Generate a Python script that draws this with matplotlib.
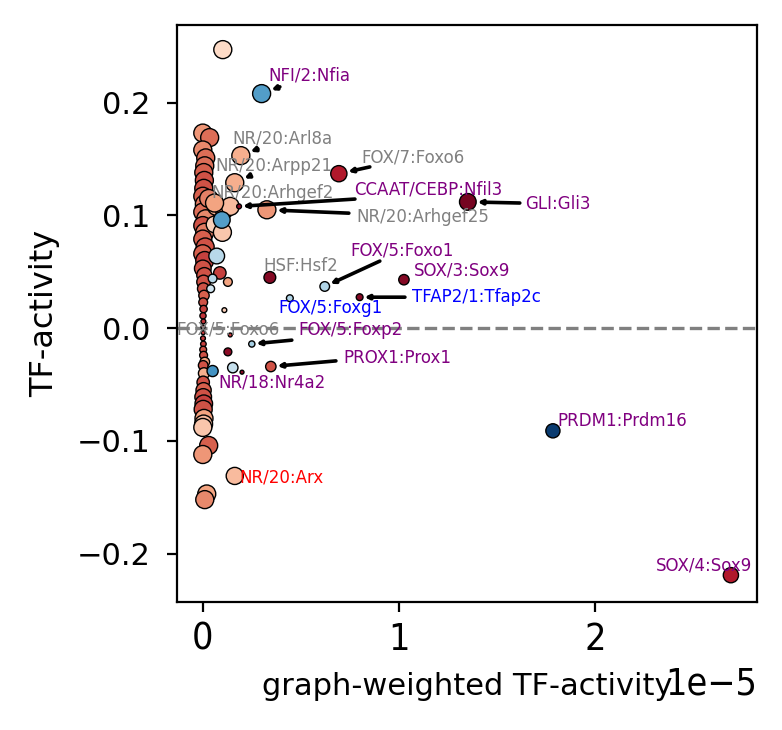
import numpy as np
import matplotlib
matplotlib.use("Agg")
import matplotlib.pyplot as plt

# unlabelled TFs: graph-weighted activity (x, units of 1e-5), TF-activity (y),
# marker size and colour value (RdBu_r)
col_x = [
    0.000, 0.035, 0.000, 0.015, 0.010, 0.005, 0.008, 0.005, 0.000, 0.008,
    0.000, 0.015, 0.000, 0.010, 0.000, 0.012, 0.000, 0.010, 0.000, 0.008,
    0.004, 0.003, 0.006, 0.002, 0.004, 0.001, 0.003, 0.001, 0.002, 0.001,
    0.003, 0.002, 0.004, 0.010, 0.002, 0.006, 0.002, 0.004, 0.002, 0.005,
    0.002, 0.006, 0.004, 0.000, 0.030, 0.000, 0.020, 0.010,
    0.070, 0.110, 0.140, 0.060, 0.100, 0.030,
    0.097, 0.071, 0.087, 0.050, 0.128, 0.040, 0.110, 0.128, 0.153, 0.050,
    0.102,
]
col_y = [
    0.173, 0.169, 0.158, 0.151, 0.144, 0.138, 0.131, 0.124, 0.117, 0.110,
    0.103, 0.097, 0.091, 0.085, 0.079, 0.072, 0.066, 0.060, 0.053, 0.047,
    0.041, 0.035, 0.029, 0.023, 0.017, 0.011, 0.006, 0.001, -0.004, -0.009,
    -0.014, -0.019, -0.024, -0.030, -0.033, -0.040, -0.048, -0.055, -0.061, -0.067,
    -0.072, -0.080, -0.085, -0.088, -0.104, -0.112, -0.147, -0.152,
    0.108, 0.105, 0.108, 0.092, 0.085, 0.115,
    0.096, 0.064, 0.049, 0.044, 0.041, 0.035, 0.016, -0.021, -0.035, -0.038,
    0.247,
]
col_s = [
    42, 42, 42, 42, 42, 42, 42, 42, 42, 42,
    42, 42, 42, 42, 42, 42, 42, 42, 36, 30,
    24, 18, 14, 10, 7, 5, 3, 2, 2, 3,
    4, 6, 8, 12, 12, 16, 20, 30, 36, 40,
    42, 42, 42, 42, 42, 42, 42, 42,
    42, 42, 42, 36, 42, 42,
    36, 32, 20, 10, 10, 8, 3, 8, 14, 16,
    42,
]
col_c = [
    0.72, 0.78, 0.74, 0.78, 0.78, 0.80, 0.82, 0.82, 0.80, 0.76,
    0.78, 0.74, 0.82, 0.76, 0.80, 0.82, 0.80, 0.84, 0.82, 0.82,
    0.82, 0.82, 0.80, 0.82, 0.84, 0.86, 0.86, 0.85, 0.85, 0.85,
    0.84, 0.82, 0.82, 0.70, 0.82, 0.68, 0.82, 0.80, 0.82, 0.84,
    0.82, 0.70, 0.66, 0.64, 0.80, 0.72, 0.70, 0.74,
    0.68, 0.72, 0.66, 0.62, 0.64, 0.75,
    0.22, 0.36, 0.84, 0.36, 0.70, 0.40, 0.62, 0.95, 0.38, 0.20,
    0.60,
]

# labelled TFs
tf_names = [
    "NFI/2:Nfia", "NR/20:Arl8a", "NR/20:Arpp21", "NR/20:Arhgef2", "FOX/7:Foxo6",
    "CCAAT/CEBP:Nfil3", "NR/20:Arhgef25", "GLI:Gli3", "HSF:Hsf2", "FOX/5:Foxo1",
    "SOX/3:Sox9", "TFAP2/1:Tfap2c", "FOX/5:Foxg1", "FOX/5:Foxo6", "FOX/5:Foxp2",
    "PROX1:Prox1", "NR/18:Nr4a2", "NR/20:Arx", "PRDM1:Prdm16", "SOX/4:Sox9",
]
tf_x = [0.300, 0.194, 0.163, 0.060, 0.694, 0.185, 0.327, 1.352, 0.342, 0.622,
        1.026, 0.800, 0.444, 0.140, 0.250, 0.347, 0.200, 0.163, 1.786, 2.694]
tf_y = [0.208, 0.153, 0.129, 0.111, 0.137, 0.108, 0.105, 0.112, 0.045, 0.037,
        0.043, 0.0275, 0.0266, -0.006, -0.014, -0.034, -0.039, -0.131, -0.091, -0.219]
tf_s = [42, 42, 42, 42, 34, 3, 42, 36, 18, 12,
        14, 6, 6, 2, 5, 14, 2, 38, 26, 30]
tf_c = [0.22, 0.68, 0.68, 0.70, 0.90, 0.95, 0.72, 0.98, 0.96, 0.35,
        0.96, 0.96, 0.35, 0.85, 0.33, 0.82, 0.95, 0.66, 0.02, 0.90]
tf_colour = ["purple", "grey", "grey", "grey", "grey",
             "purple", "grey", "purple", "grey", "purple",
             "purple", "blue", "blue", "grey", "purple",
             "purple", "purple", "red", "purple", "purple"]

# layout: label text position (left/centre) and arrow tail, x in 1e-5 units
text_pos = [(0.332, 0.224), (0.153, 0.168), (0.066, 0.144), (0.046, 0.120), (0.811, 0.151),
            (0.770, 0.123), (0.781, 0.099), (1.643, 0.110), (0.311, 0.055), (0.755, 0.069),
            (1.077, 0.051), (1.066, 0.028), (0.388, 0.018), (-0.133, -0.001), (0.490, -0.002),
            (0.719, -0.026), (0.077, -0.048), (0.189, -0.132), (1.811, -0.082), (2.311, -0.210)]
arrow_tail = [(0.393, 0.214), (0.281, 0.159), (0.240, 0.135), None, (0.852, 0.143),
              (0.776, 0.1145), (0.745, 0.102), (1.617, 0.111), None, (0.903, 0.0595),
              None, (1.031, 0.0275), None, None, (0.454, -0.0106),
              (0.679, -0.029), None, None, None, None]

fig = plt.figure(figsize=(3.91, 3.65), dpi=200)
ax = fig.add_axes([0.226, 0.175, 0.742, 0.791])

ax.axhline(0, color="grey", ls="--", lw=1.2, zorder=1)
ax.scatter(np.array(col_x) * 1e-5, col_y, s=col_s, c=col_c, cmap="RdBu_r",
           vmin=0, vmax=1, edgecolors="black", linewidths=0.5, zorder=2)
ax.scatter(np.array(tf_x) * 1e-5, tf_y, s=tf_s, c=tf_c, cmap="RdBu_r",
           vmin=0, vmax=1, edgecolors="black", linewidths=0.5, zorder=2)

for i, name in enumerate(tf_names):
    tx, ty = text_pos[i]
    ax.text(tx * 1e-5, ty, name, fontsize=6, color=tf_colour[i],
            ha="left", va="center", zorder=3)
    if arrow_tail[i] is not None:
        ax_, ay_ = arrow_tail[i]
        ax.annotate("", xy=(tf_x[i] * 1e-5, tf_y[i]), xytext=(ax_ * 1e-5, ay_),
                    arrowprops=dict(arrowstyle="-|>", color="black", lw=1.3,
                                    mutation_scale=3, shrinkA=0,
                                    shrinkB=np.sqrt(tf_s[i]) / 2 + 0.5),
                    zorder=3)

ax.set_xlim(-0.133e-5, 2.827e-5)
ax.set_ylim(-0.243, 0.269)
ax.set_xticks([0, 1e-5, 2e-5])
ax.set_yticks([-0.2, -0.1, 0.0, 0.1, 0.2])
ax.ticklabel_format(axis="x", style="sci", scilimits=(0, 0))

ax.set_xlabel("graph-weighted TF-activity", fontsize=11, labelpad=5)
ax.set_ylabel("TF-activity", fontsize=11.5, labelpad=6)
ax.tick_params(axis="y", labelsize=11, pad=6)
for lab in ax.get_xticklabels():
    lab.set_fontsize(13.5)
    lab.set_fontstretch("condensed")
off = ax.xaxis.get_offset_text()
off.set_fontsize(13.5)
off.set_fontstretch("condensed")

fig.savefig("out.png", dpi=200)
